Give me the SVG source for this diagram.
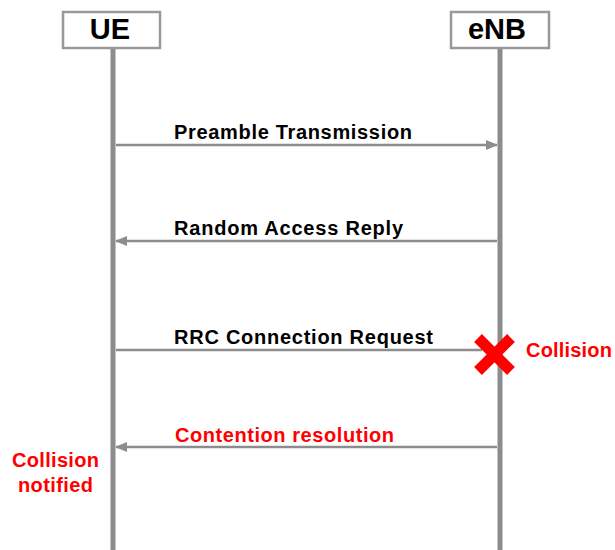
<svg xmlns="http://www.w3.org/2000/svg" width="615" height="550" viewBox="0 0 615 550">
<style>
.box{fill:#fff;stroke:#999;stroke-width:2.5}
.life{stroke:#8c8c8c;stroke-width:5}
.msg{stroke:#8c8c8c;stroke-width:2.5;fill:none}
.hd{font-family:"Liberation Sans",Arial,sans-serif;font-weight:bold;font-size:29px;fill:#000;text-anchor:middle}
.lbl{font-family:"Liberation Sans",Arial,sans-serif;font-weight:bold;font-size:20px;fill:#000}
.red{fill:#f00}
</style>
<defs>
<marker id="ah" markerWidth="12" markerHeight="10" refX="11" refY="5" orient="auto" markerUnits="userSpaceOnUse">
<path d="M0,0 L12,5 L0,10 Z" fill="#8c8c8c"/>
</marker>
</defs>
<g id="UE">
<line class="life" x1="113" y1="48" x2="113" y2="550"/>
<rect class="box" x="63" y="12" width="97" height="36"/>
<text class="hd" x="110" y="39">UE</text>
</g>
<g id="eNB">
<line class="life" x1="500" y1="48" x2="500" y2="550"/>
<rect class="box" x="451" y="12" width="98" height="36"/>
<text class="hd" x="497" y="39">eNB</text>
</g>
<g id="connectors">
<line class="msg" x1="116" y1="145" x2="497" y2="145" marker-end="url(#ah)"/>
<text class="lbl" x="174" y="139" textLength="238">Preamble Transmission</text>
<line class="msg" x1="497" y1="241" x2="116" y2="241" marker-end="url(#ah)"/>
<text class="lbl" x="174" y="235" textLength="229">Random Access Reply</text>
<line class="msg" x1="116" y1="350" x2="482" y2="350"/>
<text class="lbl" x="174" y="344" textLength="259">RRC Connection Request</text>
<line class="msg" x1="497" y1="447" x2="116" y2="447" marker-end="url(#ah)"/>
<text class="lbl red" x="175" y="442" textLength="219">Contention resolution</text>
</g>
<g id="collision">
<path d="M478,338 L511,371 M511,338 L478,371" stroke="#f00" stroke-width="11" fill="none"/>
<text class="lbl red" x="526" y="357" textLength="86">Collision</text>
</g>
<g id="notified">
<text class="lbl red" x="12" y="467" textLength="87">Collision</text>
<text class="lbl red" x="18" y="492" textLength="75">notified</text>
</g>
</svg>
